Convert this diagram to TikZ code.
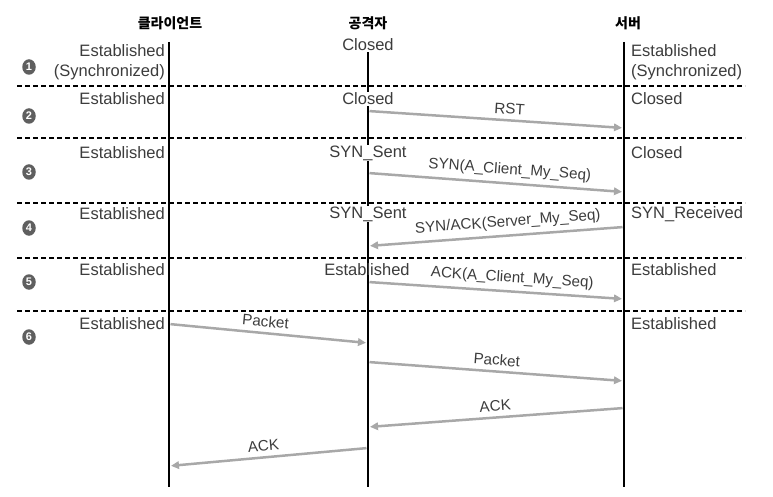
\documentclass[tikz,border=0pt]{standalone}
\usepackage{fontspec}
\setmainfont{Liberation Sans}
\newfontfamily\krfont{Noto Sans CJK KR}
\usetikzlibrary{arrows.meta, shapes.geometric}
\definecolor{msggray}{RGB}{168,168,168}
\definecolor{txtgray}{RGB}{60,60,60}
\definecolor{numgray}{RGB}{95,95,95}

\begin{document}
\begin{tikzpicture}[x=1pt, y=-1pt,
  head/.style={font=\krfont\bfseries\fontsize{14}{16}\selectfont},
  state/.style={font=\fontsize{16.5}{20}\selectfont, text=txtgray, inner sep=1pt},
  cstate/.style={state, anchor=east, align=right},
  sstate/.style={state, anchor=west, align=left},
  astate/.style={state, fill=white},
  life/.style={line width=2.5pt},
  rowline/.style={line width=1.1pt, dash pattern=on 5pt off 3pt},
  msg/.style={draw=msggray, line width=2.5pt, shorten >=2pt, shorten <=1.5pt, -{Triangle[length=8pt,width=7.5pt]}},
  mlabel/.style={font=\fontsize{15.2}{18}\selectfont, text=txtgray, sloped, above=1.5pt},
  stepnum/.style={ellipse, fill=numgray, text=white, font=\bfseries\fontsize{11}{11}\selectfont, inner sep=0pt, minimum width=13.5pt, minimum height=15.5pt}
]
  \useasboundingbox (0,0) rectangle (773,497);

  % headers
  \node[head] (hc) at (170,23) {클라이언트};
  \node[head] (ha) at (368,23) {공격자};
  \node[head] (hs) at (628,23) {서버};

  % row separators
  \foreach \y in {86,138,203,258,311}
    \draw[rowline] (17,\y) -- (745,\y);

  % step numbers
  \foreach \n/\y in {1/67,2/116,3/172,4/228,5/282,6/337}
    \node[stepnum] (n\n) at (29,\y) {\n};

  % lifelines
  \coordinate (ctop) at (169,42);
  \coordinate (cbot) at (169,487);
  \coordinate (stop) at (624,42);
  \coordinate (sbot) at (624,487);
  \coordinate (abot) at (368,487);
  \node[astate] (a1) at (368,45) {Closed};
  \draw[life] (ctop) -- (cbot);
  \draw[life] (stop) -- (sbot);
  \draw[life] (a1.south) -- (abot);

  % client states
  \node[cstate] (c1) at (166,62) {Established\\(Synchronized)};
  \node[cstate] (c2) at (166,99) {Established};
  \node[cstate] (c3) at (166,153) {Established};
  \node[cstate] (c4) at (166,214) {Established};
  \node[cstate] (c5) at (166,270) {Established};
  \node[cstate] (c6) at (166,324) {Established};

  % attacker states
  \node[astate] (a2) at (368,99) {Closed};
  \node[astate] (a3) at (368,153) {SYN\_Sent};
  \node[astate] (a4) at (368,214) {SYN\_Sent};
  \node[state] (a5) at (367,270) {Established};

  % server states
  \node[sstate] (s1) at (630,62) {Established\\(Synchronized)};
  \node[sstate] (s2) at (630,99) {Closed};
  \node[sstate] (s3) at (630,153) {Closed};
  \node[sstate] (s4) at (630,214) {SYN\_Received};
  \node[sstate] (s5) at (630,270) {Established};
  \node[sstate] (s6) at (630,324) {Established};

  % message end points
  \coordinate (rst1) at (368,111);  \coordinate (rst2) at (624,128);
  \coordinate (syn1) at (368,173);  \coordinate (syn2) at (624,192);
  \coordinate (sa1) at (624,227);   \coordinate (sa2) at (368,246);
  \coordinate (ack1) at (368,282);  \coordinate (ack2) at (624,299);
  \coordinate (pa1) at (169,324);   \coordinate (pa2) at (368,343);
  \coordinate (pb1) at (368,362);   \coordinate (pb2) at (624,381);
  \coordinate (ka1) at (624,408);   \coordinate (ka2) at (368,427);
  \coordinate (kb1) at (368,448);   \coordinate (kb2) at (169,466);

  % messages
  \draw[msg] (rst1) -- node[mlabel, pos=0.55] (lrst) {RST} (rst2);
  \draw[msg] (syn1) -- node[mlabel, pos=0.55] (lsyn) {SYN(A\_Client\_My\_Seq)} (syn2);
  \draw[msg] (sa1) -- node[mlabel, pos=0.45] (lsa) {SYN/ACK(Server\_My\_Seq)} (sa2);
  \draw[msg] (ack1) -- node[mlabel, pos=0.56] (lack) {ACK(A\_Client\_My\_Seq)} (ack2);
  \draw[msg] (pa1) -- node[mlabel, pos=0.48] (lpa) {Packet} (pa2);
  \draw[msg] (pb1) -- node[mlabel, pos=0.5] (lpb) {Packet} (pb2);
  \draw[msg] (ka1) -- node[mlabel, pos=0.5] (lka) {ACK} (ka2);
  \draw[msg] (kb1) -- node[mlabel, pos=0.52] (lkb) {ACK} (kb2);
\end{tikzpicture}
\end{document}
